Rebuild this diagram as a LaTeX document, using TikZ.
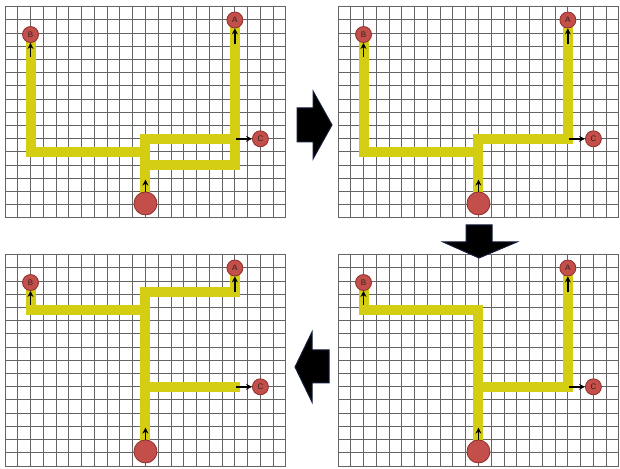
\documentclass[tikz,border=0pt]{standalone}
\usepackage{fontspec}
\setsansfont{Liberation Sans}
\usetikzlibrary{arrows.meta}

\definecolor{trackyellow}{RGB}{212,206,18}
\definecolor{padred}{RGB}{196,78,74}
\definecolor{padedge}{RGB}{140,48,46}
\definecolor{gridgray}{RGB}{100,100,100}
\definecolor{bignavy}{RGB}{20,30,60}

\pgfdeclarelayer{gridlayer}
\pgfdeclarelayer{tracklayer}
\pgfsetlayers{gridlayer,tracklayer,main}

\begin{document}
\begin{tikzpicture}[x=1pt,y=1pt,
    every node/.style={font=\sffamily\fontsize{8}{8}\selectfont, text=black!85},
    panel/.style n args={2}{shift={(#1pt,#2pt)}, x=12.77pt, y=13.2pt},
    gridline/.style={draw=gridgray, line width=1pt},
    track/.style={draw=trackyellow, line width=10pt, line cap=rect, line join=miter},
    pad/.style={circle, fill=padred, draw=padedge, line width=0.8pt, minimum size=16pt, inner sep=0pt},
    source/.style={pad, minimum size=23pt},
    flow/.style={-{Stealth[length=6pt,width=6pt]}, line width=1.6pt},
    bigarrow/.style={fill=black, draw=bignavy, line width=1pt, line join=miter}]
  \useasboundingbox (0,0) rectangle (620,468);

  % four boards, same pads
  \foreach \p/\ox/\oy in {1/5/250, 2/338/250, 3/5/2, 4/338/2} {
    \begin{scope}[panel={\ox}{\oy}]
      \begin{pgfonlayer}{gridlayer}
        \draw[gridline, step=1] (0,0) grid (22,16);
      \end{pgfonlayer}
      \node[pad] (A\p) at (18,15) {A};
      \node[pad] (B\p) at (2,13.9) {B};
      \node[pad] (C\p) at (20,6) {C};
      \node[source] (S\p) at (11,1.1) {};
      \draw[flow] ([yshift=-16pt]A\p.south) -- (A\p.south);
      \draw[flow] ([yshift=-14pt]B\p.south) -- (B\p.south);
      \draw[flow] ([xshift=-16pt]C\p.west) -- (C\p.west);
      \draw[flow] (S\p.north) -- ([yshift=12pt]S\p.north);
    \end{scope}
  }

  % routed tracks
  \begin{pgfonlayer}{tracklayer}
    \begin{scope}[panel={5}{250}]
      \draw[track] (S1) -- (11,6) -- (18,6);
      \draw[track] (11,4) -| (A1);
      \draw[track] (11,5) -| (B1);
    \end{scope}
    \begin{scope}[panel={338}{250}]
      \draw[track] (S2) -- (11,6) -- (18,6) -- (A2);
      \draw[track] (11,5) -| (B2);
    \end{scope}
    \begin{scope}[panel={5}{2}]
      \draw[track] (S3) -- (11,13.2) -- (18,13.2) -- (A3);
      \draw[track] (11,11.8) -| (B3);
      \draw[track] (11,6) -- (18,6);
    \end{scope}
    \begin{scope}[panel={338}{2}]
      \draw[track] (S4) -- (11,11.8) -| (B4);
      \draw[track] (11,6) -| (A4);
    \end{scope}
  \end{pgfonlayer}

  % step arrows
  \draw[bigarrow] (297,326) -- (313,326) -- (313,309) -- (332,343) -- (313,377) -- (313,360) -- (297,360) -- cycle;
  \draw[bigarrow] (466,243) -- (492,243) -- (492,226) -- (517,226) -- (479,210) -- (443,226) -- (466,226) -- cycle;
  \draw[bigarrow] (329,85) -- (329,118) -- (312,118) -- (312,136) -- (295,101) -- (312,66) -- (312,85) -- cycle;
\end{tikzpicture}
\end{document}
